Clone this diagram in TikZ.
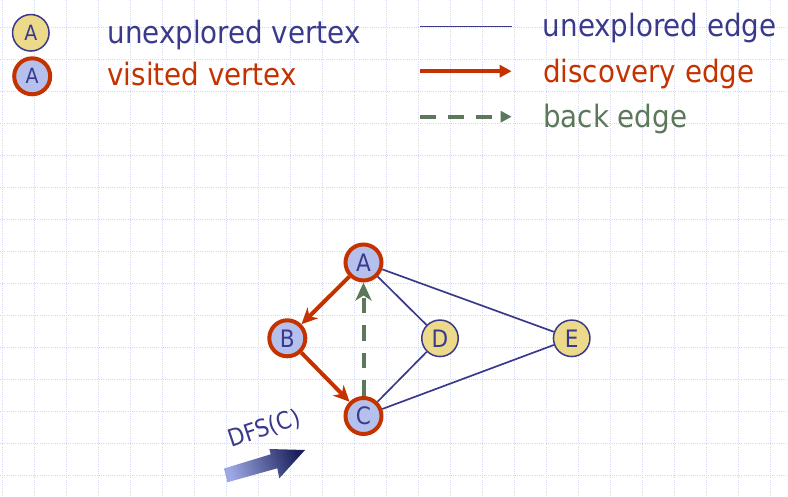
\documentclass[tikz,border=0pt]{standalone}
\usepackage{fontspec}
\setmainfont{DejaVu Sans Condensed}
\usetikzlibrary{arrows.meta}
\definecolor{vblue}{RGB}{58,58,140}
\definecolor{vred}{RGB}{196,50,0}
\definecolor{vgreen}{RGB}{92,120,90}
\definecolor{vyellow}{RGB}{237,217,138}
\definecolor{vlblue}{RGB}{182,192,236}
\definecolor{gridc}{RGB}{208,216,246}
\definecolor{dfsdark}{RGB}{26,32,92}
\definecolor{dfsmid}{RGB}{44,62,156}
\definecolor{dfslight}{RGB}{156,168,228}
\tikzset{
  gridline/.style={draw=gridc, line width=0.9pt, dash pattern=on 1pt off 1.2pt},
  unv/.style={circle, draw=vblue, line width=1.5pt, fill=vyellow, minimum size=36.5pt, inner sep=0pt, text=vblue},
  vis/.style={circle, draw=vred, line width=4pt, fill=vlblue, minimum size=36pt, inner sep=0pt, text=vblue},
  gfont/.style={font=\fontsize{24}{24}\selectfont},
  lfont/.style={font=\fontsize{21}{21}\selectfont},
  uedge/.style={draw=vblue, line width=1.7pt},
  dedge/.style={draw=vred, line width=4pt, -{Stealth[length=16pt,width=15pt,inset=5pt]}},
  bedge/.style={draw=vgreen, line width=4pt, dash pattern=on 15.5pt off 12pt, -{Stealth[length=18pt,width=16pt,inset=5pt]}},
  lbl/.style={anchor=base west, inner sep=0pt, font=\fontsize{30.8}{36}\selectfont}
}
\begin{document}
\begin{tikzpicture}[x=1pt,y=-1pt]
\useasboundingbox (0,0) rectangle (788,497);
% background grid
\foreach \y in {27,59,...,475} \draw[gridline] (0,\y) -- (788,\y);
\foreach \x in {2.7,34.7,...,771} \draw[gridline] (\x,0) -- (\x,497);
% legend left
\node[unv, lfont] (la) at (30.8,32.8) {A};
\node[vis, lfont] (lb) at (32.2,76.3) {A};
\node[lbl, text=vblue] (lt1) at (107.3,43.3) {unexplored vertex};
\node[lbl, text=vred] (lt2) at (107.3,86) {visited vertex};
% legend right
\coordinate (l1s) at (420,26.7); \coordinate (l1e) at (512,26.7);
\coordinate (l2s) at (420,71.2); \coordinate (l2e) at (511.7,71.2);
\coordinate (l3s) at (420,116.7); \coordinate (l3e) at (511.7,116.7);
\draw[uedge, line width=1.5pt] (l1s) -- (l1e);
\draw[draw=vred, line width=4pt, -{Triangle[length=12pt,width=12pt]}] (l2s) -- (l2e);
\draw[draw=vgreen, line width=4pt, dash pattern=on 16pt off 12pt, -{Triangle[length=11pt,width=11pt]}] (l3s) -- (l3e);
\node[lbl, text=vblue] (rt1) at (542.7,37) {unexplored edge};
\node[lbl, text=vred] (rt2) at (543,82.5) {discovery edge};
\node[lbl, text=vgreen] (rt3) at (543,128) {back edge};
% graph
\node[vis, gfont] (A) at (363.5,262.5) {A};
\node[vis, gfont] (B) at (287.3,338.3) {B};
\node[vis, gfont] (C) at (363.5,416) {C};
\node[unv, gfont] (D) at (440,338.3) {D};
\node[unv, gfont] (E) at (571.7,338.3) {E};
\draw[uedge] (A) -- (D);
\draw[uedge] (A) -- (E);
\draw[uedge] (C) -- (D);
\draw[uedge] (C) -- (E);
\draw[dedge] (A) -- (B);
\draw[dedge] (B) -- (C);
\draw[bedge] (C) -- (A);
% DFS(C) arrow
\shade[left color=dfslight, middle color=dfsmid, right color=dfsdark, shading angle=107]
  (224,468.5) -- (270.7,454.3) -- (269.3,449) -- (305,450) -- (279.3,478.3) -- (277.3,468.3) -- (227.3,482.3) -- cycle;
\node[text=vblue, rotate=18.5, inner sep=0pt, font=\fontsize{24}{24}\selectfont] (dfs) at (264.5,429) {DFS(C)};
\end{tikzpicture}
\end{document}
